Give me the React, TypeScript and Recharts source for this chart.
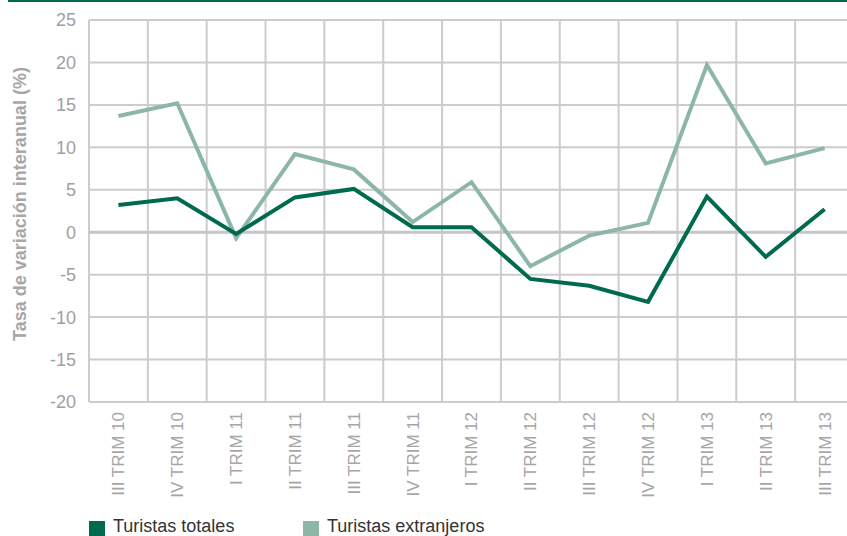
import { LineChart, Line, XAxis, YAxis, CartesianGrid, ReferenceLine, Legend } from 'recharts';

const categories = [
    'III TRIM 10', 'IV TRIM 10', 'I TRIM 11', 'II TRIM 11', 'III TRIM 11', 'IV TRIM 11', 'I TRIM 12',
    'II TRIM 12', 'III TRIM 12', 'IV TRIM 12', 'I TRIM 13', 'II TRIM 13', 'III TRIM 13',
];
const turistasTotales = [3.2, 4.0, -0.2, 4.1, 5.1, 0.6, 0.6, -5.5, -6.3, -8.2, 4.2, -2.9, 2.7];
const turistasExtranjeros = [13.7, 15.2, -0.7, 9.2, 7.4, 1.2, 5.9, -4.0, -0.4, 1.1, 19.7, 8.1, 9.9];
const yTicks = [-20, -15, -10, -5, 0, 5, 10, 15, 20, 25];

const data = categories.map((cat, i) => ({
    cat,
    totales: turistasTotales[i],
    extranjeros: turistasExtranjeros[i],
}));

const DARK = '#006a4f';
const LIGHT = '#8cb7a7';
const GRID = '#cccccc';
const FONT = '"Liberation Sans", Arial, sans-serif';

function XTick(props: any) {
    const { x, y, payload } = props;
    return (
        <g transform={`translate(${x},${y + 2})`}>
            <text
                x={0}
                y={0}
                dy="0.35em"
                transform="rotate(-90)"
                textAnchor="end"
                fill="#a6a6a6"
                fontSize={17}
                fontFamily={FONT}
            >
                {payload.value}
            </text>
        </g>
    );
}

function YTitle(props: any) {
    const { viewBox } = props;
    const cy = viewBox.y + viewBox.height / 2 - 7;
    return (
        <text
            x={20}
            y={cy}
            dy="0.35em"
            transform={`rotate(-90, 20, ${cy})`}
            textAnchor="middle"
            fill="#a6a6a6"
            fontSize={18}
            fontWeight="bold"
            fontFamily={FONT}
        >
            Tasa de variación interanual (%)
        </text>
    );
}

function LegendBox() {
    const items = [
        { name: 'Turistas totales', color: DARK, left: 0 },
        { name: 'Turistas extranjeros', color: LIGHT, left: 214 },
    ];
    return (
        <div style={{ position: 'relative', height: 20 }}>
            {items.map((it) => (
                <div
                    key={it.name}
                    style={{ position: 'absolute', left: it.left, top: 0, display: 'flex', alignItems: 'flex-start' }}
                >
                    <span style={{ width: 16, height: 16, marginTop: 5, background: it.color, display: 'inline-block' }} />
                    <span style={{ marginLeft: 8, fontSize: 18, lineHeight: '20px', color: '#333333', fontFamily: FONT, whiteSpace: 'nowrap' }}>
                        {it.name}
                    </span>
                </div>
            ))}
        </div>
    );
}

export default function App() {
    return (
        <div style={{ position: 'fixed', left: 0, top: 0, width: 847, height: 536, overflow: 'hidden', background: '#fff' }}>
            <LineChart width={860} height={536} data={data} margin={{ top: 20, right: 6, bottom: 0, left: 0 }}>
                <CartesianGrid
                    stroke={GRID}
                    strokeWidth={2}
                    verticalCoordinatesGenerator={({ offset }: any) =>
                        categories.map((_, i) => offset.left + (i * offset.width) / categories.length).concat(offset.left + offset.width)
                    }
                />
                <XAxis
                    dataKey="cat"
                    scale="band"
                    interval={0}
                    axisLine={false}
                    tickLine={false}
                    height={134}
                    tick={<XTick />}
                />
                <YAxis
                    domain={[-20, 25]}
                    ticks={yTicks}
                    width={89}
                    axisLine={false}
                    tickLine={false}
                    tickMargin={7}
                    tick={{ fill: '#a0a0a0', fontSize: 18, fontFamily: FONT }}
                    label={{ content: <YTitle /> }}
                />
                <ReferenceLine y={0} stroke="#c6c6c6" strokeWidth={3} />
                <Line
                    type="linear"
                    dataKey="extranjeros"
                    stroke={LIGHT}
                    strokeWidth={4}
                    dot={false}
                    isAnimationActive={false}
                />
                <Line
                    type="linear"
                    dataKey="totales"
                    stroke={DARK}
                    strokeWidth={4}
                    dot={false}
                    isAnimationActive={false}
                />
                <Legend
                    layout="horizontal"
                    verticalAlign="middle"
                    align="center"
                    content={<LegendBox />}
                    wrapperStyle={{ left: 89, top: 516, width: 500, height: 20 }}
                />
            </LineChart>
            <div style={{ position: 'absolute', left: 8, right: 0, top: 0, height: 2, background: DARK }} />
        </div>
    );
}
